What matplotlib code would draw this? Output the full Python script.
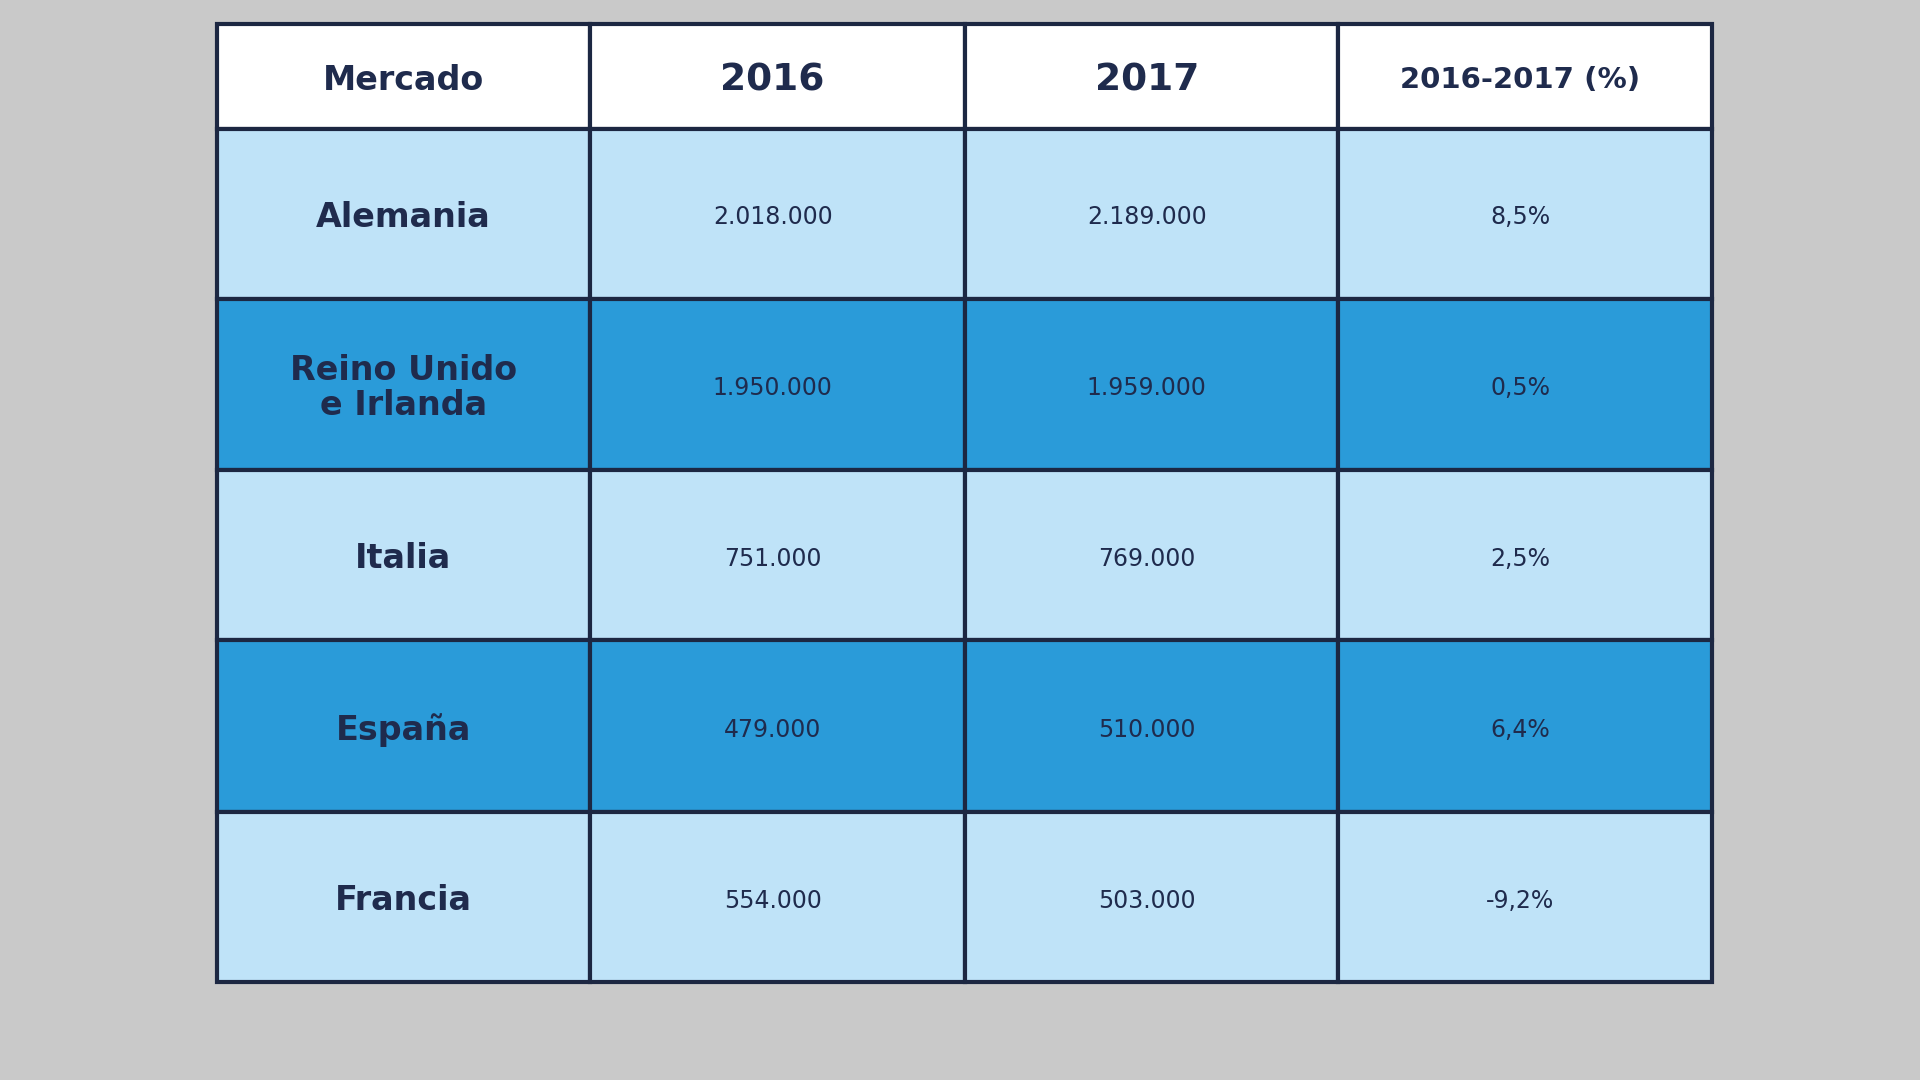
import matplotlib
matplotlib.use("Agg")
import matplotlib.pyplot as plt
from matplotlib.patches import Rectangle

headers = ["Mercado", "2016", "2017", "2016-2017 (%)"]
markets = ["Alemania", "Reino Unido\ne Irlanda", "Italia", "España", "Francia"]
v2016 = ["2.018.000", "1.950.000", "751.000", "479.000", "554.000"]
v2017 = ["2.189.000", "1.959.000", "769.000", "510.000", "503.000"]
pct = ["8,5%", "0,5%", "2,5%", "6,4%", "-9,2%"]

W, H = 1568, 882
fig = plt.figure(figsize=(19.2, 10.8), dpi=100)
fig.patch.set_facecolor("#c9c9c9")
ax = fig.add_axes([0, 0, 1, 1])
ax.set_xlim(0, W); ax.set_ylim(H, 0); ax.axis("off")

cols = [177, 482, 788, 1093, 1398]
rows = [20, 105, 244, 384, 523, 663, 802]
light, dark = "#bfe3f8", "#2a9bd9"
edge = "#1c2742"; txt = "#1f2b4d"

table = [headers] + [[m, a, b, p] for m, a, b, p in zip(markets, v2016, v2017, pct)]
for r, rowvals in enumerate(table):
    y0, y1 = rows[r], rows[r + 1]
    fc = "white" if r == 0 else (dark if r % 2 == 0 else light)
    for c, val in enumerate(rowvals):
        x0, x1 = cols[c], cols[c + 1]
        ax.add_patch(Rectangle((x0, y0), x1 - x0, y1 - y0, facecolor=fc,
                               edgecolor=edge, linewidth=3))
        if r == 0:
            fs = 24 if c < 3 else 21
            if c in (1, 2): fs = 27
            bold = True
        elif c == 0:
            fs = 24; bold = True
        else:
            fs = 17; bold = False
        ax.text((x0 + x1) / 2 - (4 if c else 0), (y0 + y1) / 2 + 3, val,
                ha="center", va="center", fontsize=fs, color=txt,
                fontweight="bold" if bold else "normal",
                family="DejaVu Sans", linespacing=1.1)

fig.savefig("out.png", dpi=100, facecolor=fig.get_facecolor())
